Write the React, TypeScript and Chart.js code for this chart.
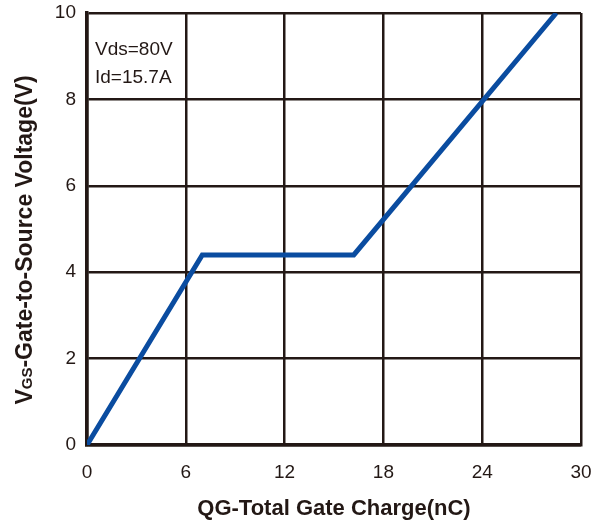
import React, { useEffect, useRef } from "react";
import { Chart, registerables } from "chart.js";

Chart.register(...registerables);

const chargeNC = [0, 7, 16.2, 28.5];
const vgsV = [0, 4.4, 4.4, 10];
const xTicks = [0, 6, 12, 18, 24, 30];
const yTicks = [0, 2, 4, 6, 8, 10];
const annotationLines = ["Vds=80V", "Id=15.7A"];
const xTitle = "QG-Total Gate Charge(nC)";
const yTitleMain = "V";
const yTitleSub = "GS";
const yTitleRest = "-Gate-to-Source Voltage(V)";

const INK = "#231815";
const FONT = "'Liberation Sans', Arial, sans-serif";

const textPlugin = {
  id: "customText",
  afterDraw(chart: any) {
    const ctx = chart.ctx;
    const area = chart.chartArea;
    ctx.save();
    ctx.fillStyle = INK;
    // annotation
    ctx.font = `19px ${FONT}`;
    ctx.textAlign = "left";
    ctx.textBaseline = "alphabetic";
    annotationLines.forEach((t, i) => {
      ctx.fillText(t, area.left + 8, area.top + 42 + i * 28);
    });
    // x title
    ctx.font = `bold 22px ${FONT}`;
    ctx.textAlign = "center";
    ctx.fillText(xTitle, (area.left + area.right) / 2, 515);
    // y title rotated
    ctx.translate(32, 240);
    ctx.rotate(-Math.PI / 2);
    ctx.textAlign = "left";
    const bigFont = `bold 23px ${FONT}`;
    const smallFont = `bold 15px ${FONT}`;
    ctx.font = bigFont;
    const w1 = ctx.measureText(yTitleMain).width;
    const w3 = ctx.measureText(yTitleRest).width;
    ctx.font = smallFont;
    const w2 = ctx.measureText(yTitleSub).width;
    const total = w1 + w2 + w3;
    let x = -total / 2;
    ctx.font = bigFont;
    ctx.fillText(yTitleMain, x, 0);
    x += w1;
    ctx.font = smallFont;
    ctx.fillText(yTitleSub, x, 0);
    x += w2;
    ctx.font = bigFont;
    ctx.fillText(yTitleRest, x, 0);
    ctx.restore();
  },
};

export default function App() {
  const ref = useRef<HTMLCanvasElement>(null);
  useEffect(() => {
    if (!ref.current) return;
    const chart = new Chart(ref.current, {
      type: "line",
      data: {
        datasets: [
          {
            data: chargeNC.map((x, i) => ({ x, y: vgsV[i] })),
            borderColor: "#0a4ca0",
            borderWidth: 5,
            pointRadius: 0,
            tension: 0,
            fill: false,
          },
        ],
      },
      options: {
        animation: false,
        responsive: false,
        maintainAspectRatio: false,
        layout: { padding: { top: 13, right: 11, left: 0, bottom: 0 } },
        plugins: { legend: { display: false }, tooltip: { enabled: false } },
        scales: {
          x: {
            type: "linear",
            min: 0,
            max: 30,
            afterBuildTicks: (s: any) => {
              s.ticks = xTicks.map((v) => ({ value: v }));
            },
            afterFit: (s: any) => {
              s.height = 79;
              s.paddingLeft = 0;
              s.paddingRight = 0;
            },
            grid: { color: INK, lineWidth: 2.5, drawTicks: false },
            border: { color: INK, width: 3.5 },
            ticks: {
              color: INK,
              padding: 16,
              font: { family: FONT, size: 19 },
              maxRotation: 0,
            },
          },
          y: {
            type: "linear",
            min: 0,
            max: 10,
            afterBuildTicks: (s: any) => {
              s.ticks = yTicks.map((v) => ({ value: v }));
            },
            afterFit: (s: any) => {
              s.width = 87;
              s.paddingTop = 0;
              s.paddingBottom = 0;
            },
            grid: { color: INK, lineWidth: 2.5, drawTicks: false },
            border: { color: INK, width: 3.5 },
            ticks: {
              color: INK,
              padding: 11,
              font: { family: FONT, size: 19 },
            },
          },
        },
      },
      plugins: [textPlugin],
    });
    return () => chart.destroy();
  }, []);
  return (
    <div style={{ position: "fixed", left: 0, top: 0, width: 592, height: 524, background: "#fff" }}>
      <canvas ref={ref} width={592} height={524} style={{ width: 592, height: 524 }} />
    </div>
  );
}
